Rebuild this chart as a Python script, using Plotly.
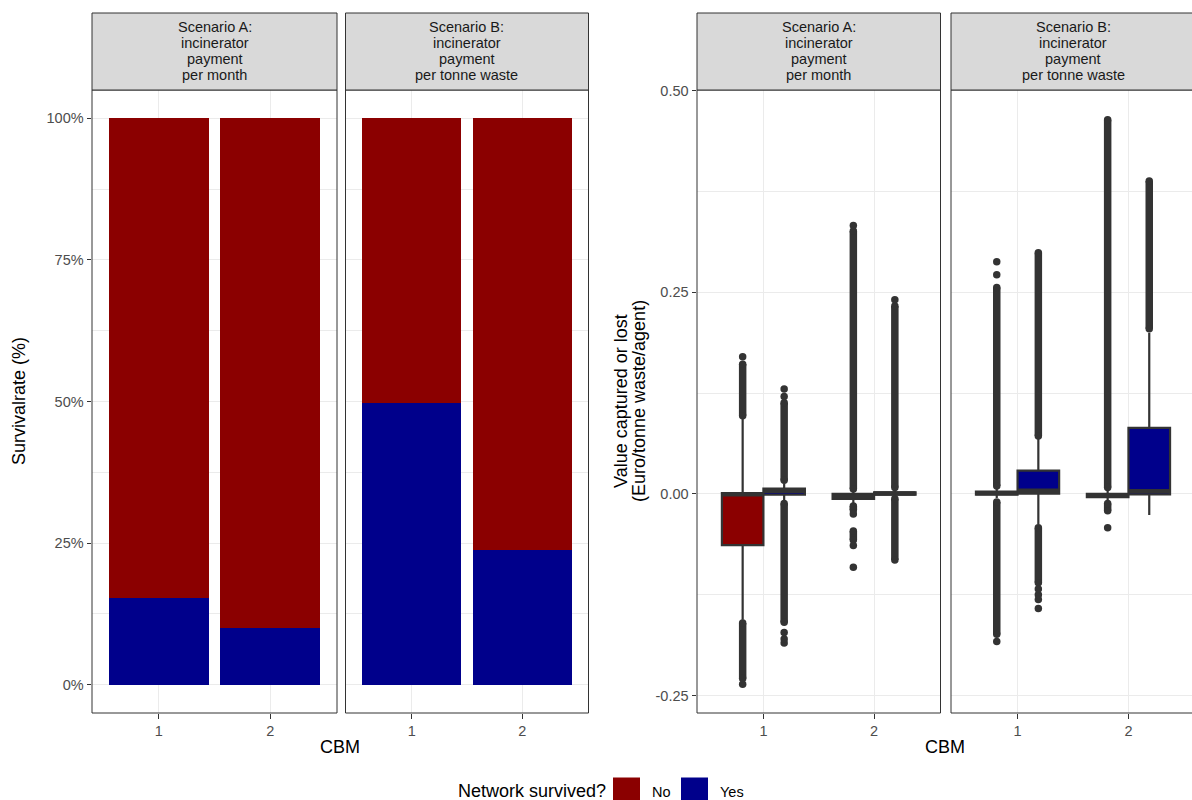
import plotly.graph_objects as go

W, H = 1192, 800
FONT = "Liberation Sans, Arial, sans-serif"

# ---- data -------------------------------------------------------------
cbm_levels = [1, 2]
cbm_labels = ["1", "2"]
outcomes = ["No", "Yes"]
outcome_colors = ["#8B0000", "#00008B"]
scenario_lines = [["Scenario A:", "incinerator", "payment", "per month"],
                  ["Scenario B:", "incinerator", "payment", "per tonne waste"]]

# share of simulation runs per outcome, by CBM
share_no_a = [0.847, 0.900]
share_yes_a = [0.153, 0.100]
share_no_b = [0.502, 0.762]
share_yes_b = [0.498, 0.238]

# box statistics, order: (CBM1, No), (CBM1, Yes), (CBM2, No), (CBM2, Yes)
box_keys = [(1, "No"), (1, "Yes"), (2, "No"), (2, "Yes")]
q1_a = [-0.0635, -0.001, -0.006, -0.001]
med_a = [-0.0005, 0.0035, -0.003, 0.0005]
q3_a = [0.001, 0.0065, 0.000, 0.002]
lo_a = [-0.156, -0.008, -0.012, -0.003]
hi_a = [0.094, 0.013, 0.004, 0.006]

q1_b = [-0.001, 0.0005, -0.004, -0.0005]
med_b = [0.001, 0.004, -0.0015, 0.0035]
q3_b = [0.003, 0.029, 0.000, 0.082]
lo_b = [-0.005, -0.038, -0.010, -0.026]
hi_b = [0.008, 0.068, 0.006, 0.200]

# outliers: dense stretches (low, high) and isolated points
runs_a = [[(-0.229, -0.160), (0.097, 0.161)],
          [(-0.159, -0.012), (0.017, 0.113)],
          [(-0.057, -0.046), (-0.020, -0.015), (0.006, 0.326)],
          [(-0.082, -0.006), (0.008, 0.233)]]
dots_a = [[-0.236, 0.170],
          [-0.185, -0.180, -0.172, 0.121, 0.130],
          [-0.091, -0.064, -0.025, 0.333],
          [0.241]]
runs_b = [[(-0.174, -0.010), (0.010, 0.256)],
          [(-0.110, -0.042), (0.072, 0.299)],
          [(-0.021, -0.012), (0.008, 0.464)],
          [(0.205, 0.388)]]
dots_b = [[-0.183, 0.272, 0.288],
          [-0.142, -0.131, -0.125, -0.118],
          [-0.042],
          []]

# ---- layout geometry (pixels) ------------------------------------------
panel_top, panel_bottom, strip_top = 90, 713, 13
left_panels = [(92, 337), (345.5, 588.5)]
right_panels = [(697, 940.5), (951, 1195)]
dodge = {"No": -0.1875, "Yes": 0.1875}
box_w = 0.375
GREY20 = "#333333"
GRID = "#EBEBEB"


def fx(px):
    return px / W


def fy(py):
    return 1 - py / H


ydom = [fy(panel_bottom), fy(panel_top)]

fig = go.Figure()

# ---- left: stacked bars ------------------------------------------------
for k, (yes, no) in enumerate([(share_yes_a, share_no_a), (share_yes_b, share_no_b)]):
    xa = "x" if k == 0 else "x2"
    ya = "y" if k == 0 else "y2"
    for vals, name, col in [(yes, "Yes", outcome_colors[1]), (no, "No", outcome_colors[0])]:
        fig.add_trace(go.Bar(x=cbm_levels, y=vals, width=0.9, name=name,
                             marker=dict(color=col, line=dict(width=0)),
                             showlegend=False, xaxis=xa, yaxis=ya))

# ---- right: boxplots ---------------------------------------------------
stats = [(q1_a, med_a, q3_a, lo_a, hi_a, runs_a, dots_a),
         (q1_b, med_b, q3_b, lo_b, hi_b, runs_b, dots_b)]
for k, (q1, med, q3, lo, hi, runs, dots) in enumerate(stats):
    xa = "x3" if k == 0 else "x4"
    ya = "y3" if k == 0 else "y4"
    for i, (cb, oc) in enumerate(box_keys):
        xc = cb + dodge[oc]
        col = outcome_colors[outcomes.index(oc)]
        fig.add_trace(go.Box(x=[xc], q1=[q1[i]], median=[med[i]], q3=[q3[i]],
                             lowerfence=[lo[i]], upperfence=[hi[i]], width=box_w,
                             fillcolor=col, line=dict(color=GREY20, width=2.2),
                             whiskerwidth=0, boxpoints=False, showlegend=False,
                             xaxis=xa, yaxis=ya))
        # thicker median bar
        fig.add_trace(go.Scatter(x=[xc - box_w / 2, xc + box_w / 2], y=[med[i], med[i]],
                                 mode="lines", line=dict(color=GREY20, width=4.4),
                                 showlegend=False, hoverinfo="skip", xaxis=xa, yaxis=ya))
        rx, ry = [], []
        for a, b in runs[i]:
            rx += [xc, xc, None]
            ry += [a, b, None]
        if rx:
            fig.add_trace(go.Scatter(x=rx, y=ry, mode="lines+markers",
                                     line=dict(color=GREY20, width=7.5),
                                     marker=dict(color=GREY20, size=7.5),
                                     showlegend=False, hoverinfo="skip",
                                     xaxis=xa, yaxis=ya))
        if dots[i]:
            fig.add_trace(go.Scatter(x=[xc] * len(dots[i]), y=dots[i], mode="markers",
                                     marker=dict(color=GREY20, size=7.5),
                                     showlegend=False, hoverinfo="skip",
                                     xaxis=xa, yaxis=ya))

# ---- axes ---------------------------------------------------------------
tickfont = dict(family=FONT, size=14.5, color="#4D4D4D")


def x_axis(p0, p1, anchor):
    span = 2.2 / (p1 - p0)
    end = min(p1, W)
    rng = [0.4, 0.4 + span * (end - p0)]
    return dict(domain=[fx(p0), fx(end)], range=rng, anchor=anchor, type="linear",
                tickvals=cbm_levels, ticktext=cbm_labels, ticks="outside", ticklen=4.5,
                tickwidth=1, tickcolor=GREY20, tickfont=tickfont, automargin=False,
                showgrid=True, gridcolor=GRID, gridwidth=1.4, zeroline=False,
                showline=False, fixedrange=True)


def y_axis(anchor, rng, tv, tt, minor_vals, labels=True):
    return dict(domain=ydom, range=rng, anchor=anchor, tickvals=tv, ticktext=tt,
                ticks="outside" if labels else "", ticklen=4.5, tickwidth=1,
                tickcolor=GREY20, tickfont=tickfont, showticklabels=labels,
                automargin=False,
                showgrid=True, gridcolor=GRID, gridwidth=1.4, zeroline=False,
                showline=False, fixedrange=True,
                minor=dict(tickvals=minor_vals, showgrid=True, gridcolor=GRID,
                           gridwidth=0.7, ticks=""))


pct_vals = [0, 0.25, 0.5, 0.75, 1]
pct_text = ["0%", "25%", "50%", "75%", "100%"]
pct_minor = [0.125, 0.375, 0.625, 0.875]
val_vals = [-0.25, 0, 0.25, 0.5]
val_text = ["-0.25", "0.00", "0.25", "0.50"]
val_minor = [-0.125, 0.125, 0.375]
val_range = [-0.2717, 0.501]

fig.update_layout(
    xaxis=x_axis(*left_panels[0], "y"),
    xaxis2=x_axis(*left_panels[1], "y2"),
    xaxis3=x_axis(*right_panels[0], "y3"),
    xaxis4=x_axis(*right_panels[1], "y4"),
    yaxis=y_axis("x", [-0.05, 1.05], pct_vals, pct_text, pct_minor),
    yaxis2=y_axis("x2", [-0.05, 1.05], pct_vals, pct_text, pct_minor, labels=False),
    yaxis3=y_axis("x3", val_range, val_vals, val_text, val_minor),
    yaxis4=y_axis("x4", val_range, val_vals, val_text, val_minor, labels=False),
)

# ---- panel borders, strips and text ------------------------------------
shapes = []
annotations = []
for panels in (left_panels, right_panels):
    for k, (p0, p1) in enumerate(panels):
        shapes.append(dict(type="rect", xref="paper", yref="paper",
                           x0=fx(p0), x1=fx(p1), y0=fy(panel_bottom), y1=fy(panel_top),
                           line=dict(color=GREY20, width=1), fillcolor="rgba(0,0,0,0)",
                           layer="above"))
        shapes.append(dict(type="rect", xref="paper", yref="paper",
                           x0=fx(p0), x1=fx(p1), y0=fy(panel_top), y1=fy(strip_top),
                           line=dict(color=GREY20, width=1), fillcolor="#D9D9D9",
                           layer="above"))
        cx = (p0 + p1) / 2
        for j, line in enumerate(scenario_lines[k]):
            annotations.append(dict(x=fx(cx), y=fy(27 + 16 * j), xref="paper", yref="paper",
                                    text=line, showarrow=False, xanchor="center",
                                    yanchor="middle",
                                    font=dict(family=FONT, size=14.5, color="#1A1A1A")))

title_font = dict(family=FONT, size=18, color="black")
annotations += [
    dict(x=fx(340), y=fy(747), text="CBM", showarrow=False, xref="paper", yref="paper",
         xanchor="center", yanchor="middle", font=title_font),
    dict(x=fx(945), y=fy(747), text="CBM", showarrow=False, xref="paper", yref="paper",
         xanchor="center", yanchor="middle", font=title_font),
    dict(x=fx(19), y=fy(401), text="Survivalrate (%)", showarrow=False, textangle=-90,
         xref="paper", yref="paper", xanchor="center", yanchor="middle", font=title_font),
    dict(x=fx(621), y=fy(401), text="Value captured or lost", showarrow=False,
         textangle=-90, xref="paper", yref="paper", xanchor="center", yanchor="middle",
         font=title_font),
    dict(x=fx(639), y=fy(401), text="(Euro/tonne waste/agent)", showarrow=False,
         textangle=-90, xref="paper", yref="paper", xanchor="center", yanchor="middle",
         font=title_font),
    dict(x=fx(608), y=fy(791), text="Network survived?", showarrow=False,
         xref="paper", yref="paper", xanchor="right", yanchor="middle", font=title_font),
]

# legend keys
key_x = [613, 681]
for name, col, kx in zip(outcomes, outcome_colors, key_x):
    shapes.append(dict(type="rect", xref="paper", yref="paper",
                       x0=fx(kx), x1=fx(kx + 27), y0=fy(804), y1=fy(777.5),
                       line=dict(color="rgba(0,0,0,0)", width=0), fillcolor=col))
    annotations.append(dict(x=fx(kx + 37), y=fy(792), text=name, showarrow=False,
                            xref="paper", yref="paper", xanchor="left", yanchor="middle",
                            font=dict(family=FONT, size=14.5, color="black")))

fig.update_layout(
    width=W, height=H, margin=dict(l=0, r=0, t=0, b=0, pad=0, autoexpand=False),
    paper_bgcolor="white", plot_bgcolor="white",
    barmode="stack", boxmode="overlay", showlegend=False,
    shapes=shapes, annotations=annotations,
    font=dict(family=FONT),
)

fig.write_html("out.html")
